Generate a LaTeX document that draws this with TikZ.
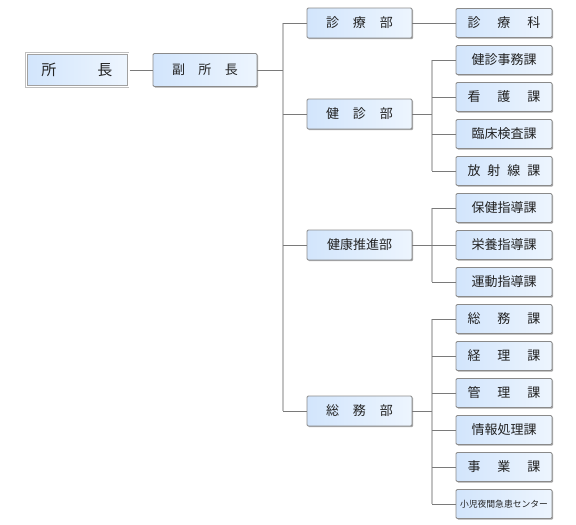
\documentclass[tikz,border=0pt]{standalone}
\usepackage{fontspec}
\setmainfont{Noto Sans CJK JP}
\usetikzlibrary{shadows}
\definecolor{boxL}{HTML}{D2E5FC}
\definecolor{boxR}{HTML}{EDF5FE}
\definecolor{boxline}{HTML}{8A8A8A}
\definecolor{vgray}{HTML}{C2C2C2}
\definecolor{hgray}{HTML}{7A7A7A}
\definecolor{ink}{HTML}{222222}
\newcommand{\gap}[1]{\hspace{#1pt}}
\tikzset{
  unit/.style={draw=boxline, line width=0.8pt, left color=boxL, right color=boxR,
    rounded corners=1.2pt, text=ink, inner sep=0pt, font=\fontsize{13}{15}\selectfont,
    drop shadow={shadow xshift=1.1pt, shadow yshift=-1.1pt, opacity=0.5, fill=black!70}},
  dept/.style={unit, minimum width=105pt, minimum height=30pt},
  sect/.style={unit, minimum width=96pt, minimum height=29pt},
  hline/.style={draw=hgray, line width=0.8pt},
  vline/.style={draw=vgray, line width=1.6pt}
}
\begin{document}
\begin{tikzpicture}[x=1pt, y=-1pt, line cap=butt]
  \useasboundingbox (0,0) rectangle (576,525);
  % top of the tree
  \node[unit, sharp corners, minimum width=100pt, minimum height=31pt, draw=boxline!80,
    preaction={draw=boxline!55, line width=4.4pt},
    preaction={draw=white, line width=3pt},
    font=\fontsize{15}{17}\selectfont] (chief) at (77,70) {所\gap{41}長};
  \node[unit, minimum width=104pt, minimum height=33pt] (vice) at (205,70) {副\gap{13.5}所\gap{13.5}長};
  \draw[hline] (chief.east) ++(2.2pt,0) -- (vice.west);
  % departments
  \foreach \n/\y/\t in {d1/23/{診\gap{14}療\gap{14}部}, d2/114/{健\gap{14}診\gap{14}部},
      d3/245/{健康推進部}, d4/411/{総\gap{14}務\gap{14}部}}
    \node[dept] (\n) at (359.5,\y) {\t};
  \coordinate (trunk) at (283,70);
  \draw[vline] (trunk |- d1.west) -- (trunk |- d4.west);
  \draw[hline] (vice.east) -- (trunk);
  \foreach \n in {d1,d2,d3,d4}
    \draw[hline] (trunk |- \n.west) -- (\n.west);
  % sections
  \foreach \n/\y/\t in {s0/23/{診\gap{17}療\gap{17}科}, s1/60/{健診事務課}, s2/97/{看\gap{17}護\gap{17}課},
      s3/134/{臨床検査課}, s4/171/{放\gap{7}射\gap{7}線\gap{7}課}, s5/208/{保健指導課},
      s6/245/{栄養指導課}, s7/282/{運動指導課}, s8/319/{総\gap{17}務\gap{17}課},
      s9/356/{経\gap{17}理\gap{17}課}, s10/393/{管\gap{17}理\gap{17}課}, s11/430/{情報処理課},
      s12/467/{事\gap{17}業\gap{17}課}}
    \node[sect] (\n) at (504,\y) {\t};
  \node[sect, font=\fontsize{8.8}{10}\selectfont] (s13) at (504,504) {小児夜間急患センター};
  \draw[hline] (d1.east) -- (s0.west);
  \coordinate (branch) at (432,0);
  \draw[vline] (branch |- s1.west) -- (branch |- s4.west);
  \draw[vline] (branch |- s5.west) -- (branch |- s7.west);
  \draw[vline] (branch |- s8.west) -- (branch |- s13.west);
  \foreach \n in {d2,d3,d4}
    \draw[hline] (\n.east) -- (branch |- \n.east);
  \foreach \n in {s1,s2,s3,s4,s5,s6,s7,s8,s9,s10,s11,s12,s13}
    \draw[hline] (branch |- \n.west) -- (\n.west);
\end{tikzpicture}
\end{document}
